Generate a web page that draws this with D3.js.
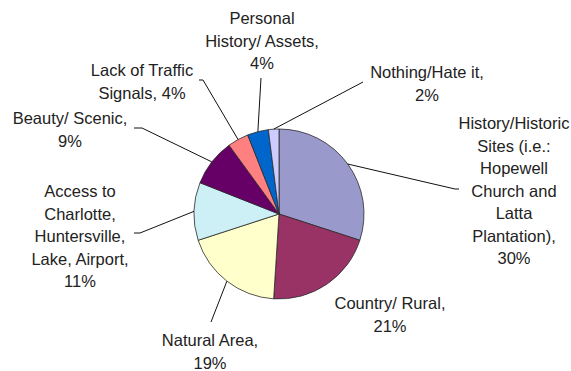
<!DOCTYPE html>
<html>
<head>
<meta charset="utf-8">
<script src="https://cdn.jsdelivr.net/npm/d3@7"></script>
<style>
  body { margin: 0; background: #fff; }
  text { font-family: "Liberation Sans", Arial, sans-serif; font-size: 16.5px; fill: #222; }
</style>
</head>
<body>
<div id="chart"></div>
<script>
let width = 571, height = 371;

// data, clockwise from 12 o'clock
let categories = ["History/Historic Sites (i.e.: Hopewell Church and Latta Plantation)",
    "Country/ Rural", "Natural Area", "Access to Charlotte, Huntersville, Lake, Airport",
    "Beauty/ Scenic", "Lack of Traffic Signals", "Personal History/ Assets", "Nothing/Hate it"];
let percents = [30, 21, 19, 11, 9, 4, 4, 2];
let labelLines = [
    ["History/Historic", "Sites (i.e.:", "Hopewell", "Church and", "Latta", "Plantation),", "30%"],
    ["Country/ Rural,", "21%"],
    ["Natural Area,", "19%"],
    ["Access to", "Charlotte,", "Huntersville,", "Lake, Airport,", "11%"],
    ["Beauty/ Scenic,", "9%"],
    ["Lack of Traffic", "Signals, 4%"],
    ["Personal", "History/ Assets,", "4%"],
    ["Nothing/Hate it,", "2%"]
];
let colors = ["#9999cc", "#993366", "#ffffcc", "#ccf0f5", "#660066", "#ff8080", "#0066cc", "#ccccff"];

// layout: label centre (x, first line y) and leader line end points
let cx = 279, cy = 214, radius = 85, lineGap = 22.5;
let labelAt = [[514, 123], [390, 303], [210, 340], [80, 191], [70, 118], [142, 70], [262, 18], [427, 72]];
let leaderEnd = [
    [[455, 189], [459, 189]],
    null,
    [[211, 322]],
    [[140, 233], [134, 233]],
    [[142, 128], [134, 128]],
    [[203, 80], [199, 80]],
    [[261, 78]],
    [[363, 82]]
];

let svg = d3.select("#chart")
    .append("svg")
    .attr("width", width)
    .attr("height", height);

let pie = d3.pie().sort(null).value(d => d);
let arcs = pie(percents);

let arc = d3.arc().innerRadius(0).outerRadius(radius);
let edge = d3.arc().innerRadius(radius).outerRadius(radius);

let g = svg.append("g").attr("transform", `translate(${cx}, ${cy})`);

g.selectAll("path")
    .data(arcs)
    .enter()
    .append("path")
    .attr("d", arc)
    .attr("fill", (d, i) => colors[i])
    .attr("stroke", "#2a2a2a")
    .attr("stroke-width", 0.8);

// leader lines
svg.append("g").selectAll("polyline")
    .data(arcs.filter((d, i) => leaderEnd[i]))
    .enter()
    .append("polyline")
    .attr("points", function(d) {
        let c = edge.centroid(d);
        let pts = [[cx + c[0], cy + c[1]]].concat(leaderEnd[d.index]);
        return pts.map(p => p.join(",")).join(" ");
    })
    .attr("fill", "none")
    .attr("stroke", "#111")
    .attr("stroke-width", 1);

// labels
let labels = svg.append("g").selectAll("text")
    .data(arcs)
    .enter()
    .append("text")
    .attr("text-anchor", "middle");

labels.selectAll("tspan")
    .data(d => labelLines[d.index].map((t, j) => ({t: t, j: j, i: d.index})))
    .enter()
    .append("tspan")
    .attr("x", d => labelAt[d.i][0])
    .attr("y", d => labelAt[d.i][1] + d.j * lineGap + 6)
    .text(d => d.t);
</script>
</body>
</html>
